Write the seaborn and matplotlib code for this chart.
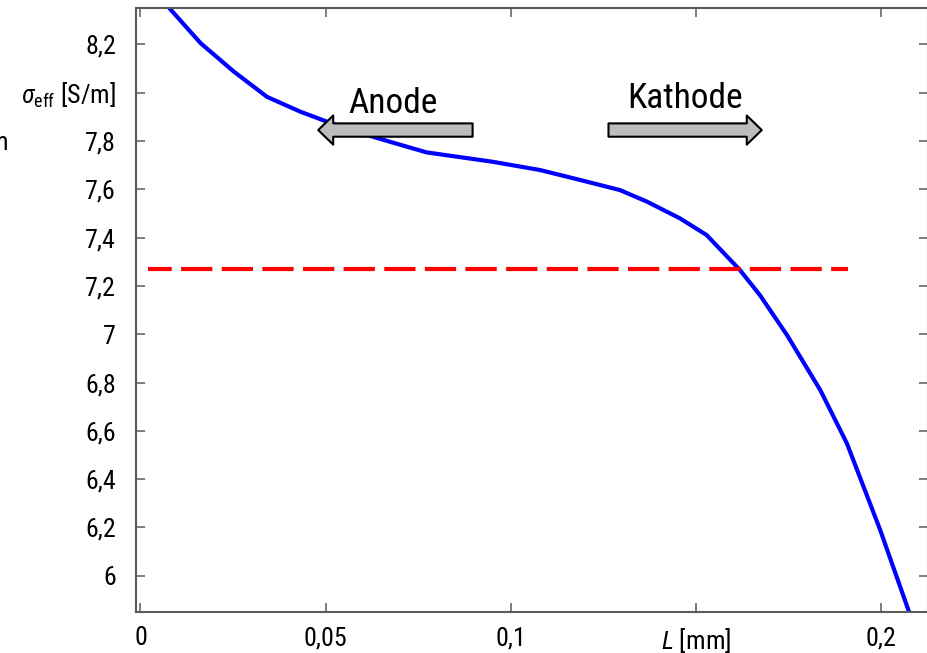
import matplotlib
matplotlib.use("Agg")
import matplotlib.pyplot as plt
from matplotlib import font_manager
from matplotlib.patches import FancyArrowPatch
import numpy as np
import pandas as pd
import seaborn as sns

# Effective conductivity along the cell length
length_mm = [0.0040, 0.00816, 0.01626, 0.02526, 0.03417, 0.04327, 0.0504, 0.0612,
             0.0685, 0.0773, 0.0952, 0.1079, 0.1187, 0.1295, 0.1368, 0.1457,
             0.1529, 0.1619, 0.1673, 0.1746, 0.1836, 0.1908, 0.1998, 0.2074, 0.2090]
sigma_eff = [8.42, 8.344, 8.205, 8.087, 7.983, 7.921, 7.880, 7.825,
             7.792, 7.753, 7.714, 7.680, 7.639, 7.597, 7.549, 7.480,
             7.411, 7.266, 7.162, 6.997, 6.769, 6.548, 6.189, 5.858, 5.79]

# Mean conductivity reference line
mean_x = [0.00203, 0.1912]
mean_y = [7.27, 7.27]

x_ticks = [0, 0.05, 0.1, 0.15, 0.2]
x_labels = ["0", "0,05", "0,1", r"$L$ [mm]", "0,2"]
y_ticks = [6.0, 6.2, 6.4, 6.6, 6.8, 7.0, 7.2, 7.4, 7.6, 7.8, 8.0, 8.2]
y_labels = ["6", "6,2", "6,4", "6,6", "6,8", "7", "7,2", "7,4", "7,6", "7,8",
            r"$\sigma_{\mathregular{eff}}$ [S/m]", "8,2"]

sns.set_theme(style="ticks")

# Prefer a condensed face when one is installed
installed = {f.name for f in font_manager.fontManager.ttflist}
face = next((n for n in ["Roboto Condensed", "Roboto"] if n in installed), "DejaVu Sans")
plt.rcParams["font.family"] = [face, "DejaVu Sans"]
plt.rcParams["mathtext.fontset"] = "custom"
plt.rcParams["mathtext.rm"] = face
plt.rcParams["mathtext.it"] = face + ":italic"
plt.rcParams["mathtext.bf"] = face + ":bold"

W, H = 927, 653
fig = plt.figure(figsize=(W / 100, H / 100), dpi=100)
fig.patch.set_facecolor("white")
ax = fig.add_axes([135.5 / W, 1 - 611.5 / H, (928 - 135.5) / W, (611.5 - 7.5) / H])
ax.set_facecolor("white")

curve = pd.DataFrame({"L": length_mm, "sigma": sigma_eff})
sns.lineplot(data=curve, x="L", y="sigma", ax=ax, color="#0000ff", lw=3.0,
             sort=False, estimator=None)

ref = pd.DataFrame({"L": mean_x, "sigma": mean_y})
sns.lineplot(data=ref, x="L", y="sigma", ax=ax, color="#ff0000", lw=3.0,
             sort=False, estimator=None)
ax.lines[-1].set_linestyle((1.8, (7.5, 2.25)))
ax.lines[-1].set_dash_capstyle("butt")

ax.set_xlim(-0.00135, 0.2127)
ax.set_ylim(5.852, 8.353)
ax.set_xlabel("")
ax.set_ylabel("")

ax.set_xticks(x_ticks)
ax.set_xticklabels(x_labels)
ax.set_yticks(y_ticks)
ax.set_yticklabels(y_labels)

spine_col = "#5a5a5a"
for s in ax.spines.values():
    s.set_visible(True)
    s.set_color(spine_col)
    s.set_linewidth(1.5)
ax.tick_params(axis="both", which="major", direction="in", length=6.5, width=1.1,
               color=spine_col, labelsize=18.7, labelcolor="black",
               top=True, right=True)
ax.tick_params(axis="y", pad=14)
ax.tick_params(axis="x", pad=10.5)

# Direction arrows for the electrodes
arrow_style = "simple,head_length=10.8,head_width=21,tail_width=9.6"
for x0, x1 in [(0.0897, 0.0480), (0.1264, 0.1678)]:
    ax.add_patch(FancyArrowPatch((x0, 7.8455), (x1, 7.8455), arrowstyle=arrow_style,
                                 mutation_scale=1, shrinkA=0, shrinkB=0,
                                 facecolor="#bdbdbd", edgecolor="black", lw=1.5,
                                 zorder=5))

ax.text(0.0682, 7.9147, "Anode", fontsize=25.5, ha="center", va="baseline", color="black")
ax.text(0.1471, 7.9354, "Kathode", fontsize=25.5, ha="center", va="baseline", color="black")

# Partially visible label at the left border
fig.text(8 / W, 1 - 150 / H, "m", fontsize=18.7, ha="right", va="baseline", color="black")

fig.savefig("out.png", dpi=100, facecolor="white")
